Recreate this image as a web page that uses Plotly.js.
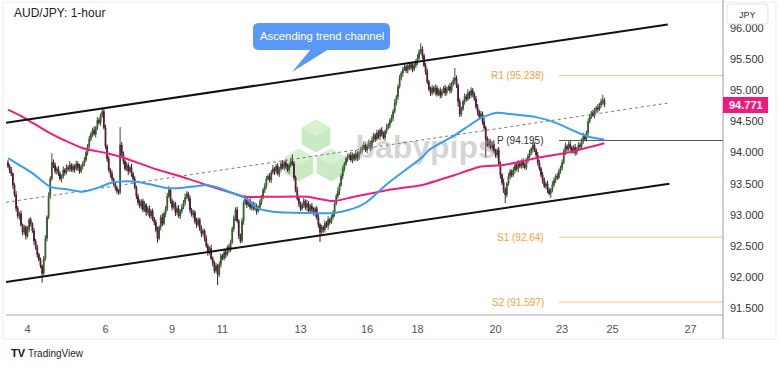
<!DOCTYPE html>
<html><head><meta charset="utf-8">
<script src="https://cdn.plot.ly/plotly-3.0.1.min.js"></script>
<style>html,body{margin:0;padding:0;background:#fff}#chart{width:780px;height:367px}</style>
</head><body><div id="chart"></div>
<script>
// ---- data (AUD/JPY, 1-hour bars, index = hour bar) ----
const firstOpen = 93.84;
const closes = [
93.78,93.72,93.66,93.48,93.32,93.10,92.98,93.02,92.84,92.72,
92.80,92.66,92.76,92.92,92.86,92.74,92.58,92.48,92.36,92.28,
92.18,92.06,92.30,92.62,92.96,93.30,93.58,93.84,93.80,93.70,
93.74,93.66,93.58,93.62,93.72,93.68,93.76,93.74,93.80,93.72,
93.78,93.74,93.82,93.76,93.70,93.78,93.82,93.88,94.00,94.10,
94.22,94.30,94.36,94.30,94.40,94.52,94.48,94.60,94.66,94.40,
94.10,93.90,93.72,93.66,93.58,93.50,93.44,93.38,93.36,94.12,
93.98,93.86,93.74,93.80,93.70,93.76,93.66,93.58,93.44,93.30,
93.20,93.14,93.22,93.08,93.16,93.04,93.10,92.98,93.06,92.94,
92.88,92.76,92.62,92.80,92.96,92.86,93.02,93.10,93.30,93.40,
93.22,93.12,93.18,93.04,93.10,92.98,93.06,93.12,93.20,93.28,
93.34,93.26,93.08,93.00,93.04,92.90,92.84,92.92,92.78,92.70,
92.74,92.62,92.50,92.40,92.46,92.30,92.22,92.10,92.18,92.04,
92.20,92.34,92.30,92.40,92.36,92.48,92.44,92.56,92.78,92.94,
93.08,92.90,92.66,92.58,92.90,93.20,93.26,93.16,93.22,93.12,
93.18,93.10,93.14,93.06,93.12,93.20,93.28,93.40,93.46,93.58,
93.62,93.56,93.68,93.74,93.70,93.78,93.66,93.74,93.82,93.76,
93.84,93.78,93.72,93.80,93.86,93.82,93.60,93.40,93.26,93.18,
93.10,93.16,93.22,93.12,93.18,93.06,93.14,93.08,93.02,93.10,
92.96,92.84,92.72,92.80,92.76,92.86,92.82,92.92,92.88,92.96,
93.02,93.18,93.30,93.38,93.48,93.62,93.74,93.82,93.90,93.92,
93.96,93.88,93.96,93.90,93.98,93.92,94.00,94.04,94.08,94.12,
94.04,94.10,94.16,94.08,94.20,94.28,94.22,94.32,94.26,94.36,
94.30,94.24,94.34,94.40,94.44,94.52,94.56,94.66,94.80,94.90,
95.06,95.20,95.28,95.34,95.38,95.32,95.40,95.36,95.42,95.34,
95.40,95.46,95.52,95.62,95.66,95.56,95.40,95.30,95.14,95.02,
94.96,95.04,94.98,95.04,94.94,95.00,94.92,94.98,95.04,94.96,
95.02,95.06,95.00,95.10,95.16,95.20,95.08,94.82,94.62,94.70,
94.82,94.90,94.86,94.96,94.92,95.00,94.94,94.86,94.74,94.66,
94.58,94.62,94.50,94.40,94.22,94.12,94.18,94.08,94.14,94.02,
93.96,94.04,93.82,93.64,93.52,93.40,93.32,93.50,93.62,93.70,
93.64,93.72,93.80,93.74,93.82,93.78,93.86,93.80,93.76,93.88,
93.94,94.00,94.06,94.12,94.04,93.96,93.84,93.74,93.64,93.56,
93.46,93.50,93.40,93.34,93.40,93.48,93.56,93.62,93.60,93.70,
93.76,93.84,94.02,94.10,94.06,94.14,94.08,94.02,94.08,94.00,
94.06,94.12,94.10,94.20,94.26,94.22,94.32,94.50,94.58,94.64,
94.60,94.68,94.72,94.70,94.76,94.82,94.84,94.771];
// upper / lower wick lengths in 0.01 yen, read per bar
const wickUp = [
4,3,5,2,3,6,4,3,5,2, 4,3,6,3,4,2,5,3,4,3, 3,2,4,5,3,6,4,15,5,4, 3,5,4,3,6,3,5,4,6,3,
4,3,5,4,6,3,4,5,3,4, 5,3,4,6,3,5,4,3,6,4, 5,3,4,3,5,2,4,3,3,29, 5,4,3,5,4,3,6,3,4,3,
4,5,3,4,6,3,4,5,3,4, 3,4,5,3,4,6,3,4,5,6, 3,4,5,3,4,6,3,5,4,6, 4,3,5,3,4,3,5,4,3,5,
4,3,5,4,3,6,3,4,5,3, 5,4,3,6,4,3,5,4,3,5, 4,5,3,4,5,3,6,4,3,5, 4,3,6,4,3,5,4,3,5,4,
3,5,4,6,3,4,5,3,4,6, 3,5,4,3,6,11,4,3,5,4, 3,4,5,3,6,4,3,5,4,3, 4,5,3,4,3,5,4,6,3,4,
5,3,4,6,3,4,5,3,4,6, 3,5,4,3,6,4,3,5,4,6, 3,4,5,3,6,4,3,5,4,3, 5,4,3,6,4,3,5,4,6,3,
4,5,3,4,6,3,4,5,3,4, 5,4,6,4,10,5,3,4,5,3, 4,5,3,6,4,3,5,4,3,5, 4,3,6,4,5,16,4,3,5,4,
3,5,4,6,3,5,4,3,5,4, 3,5,4,6,3,4,5,3,4,6, 4,3,5,4,3,6,4,3,5,4, 3,5,4,3,6,4,3,5,4,3,
4,5,3,5,4,3,5,4,3,5, 4,3,5,4,3,6,4,3,5,4, 3,5,4,6,3,4,5,3,4,6, 3,5,4,3,6,4,3,5,4,3,
5,4,3,6,4,5,9,4];
const wickDn = [
3,5,4,6,3,5,4,6,3,5, 4,6,3,4,5,3,6,4,5,3, 4,15,3,4,5,3,4,3,5,4, 5,4,3,6,4,5,3,4,5,3,
4,6,3,5,4,3,5,4,3,5, 3,4,5,3,6,4,3,5,4,3, 4,5,3,6,4,3,5,4,4,3, 4,5,3,4,6,3,5,4,3,5,
4,3,5,4,3,6,4,3,5,4, 5,4,7,3,5,4,3,6,4,3, 4,5,3,6,4,3,5,4,3,5, 3,4,5,3,6,4,5,3,4,6,
4,5,3,6,4,3,5,4,3,17, 4,5,3,4,6,3,5,4,3,5, 4,3,5,4,3,6,4,5,3,4, 5,3,4,6,3,5,4,3,5,4,
3,4,5,3,6,4,3,5,4,3, 5,4,3,6,4,3,5,4,3,5, 4,3,5,4,6,3,5,4,3,5, 4,5,16,3,5,4,3,6,4,3,
4,5,3,4,6,3,5,4,3,5, 4,3,5,4,3,6,4,3,5,4, 3,5,4,6,3,4,5,3,4,6, 4,3,5,4,3,5,4,6,3,4,
5,3,4,6,3,4,5,3,4,5, 3,4,5,3,4,6,3,5,4,3, 5,4,3,6,4,3,5,4,3,5, 4,3,5,4,3,6,4,8,5,4,
3,5,4,3,6,4,5,3,4,6, 4,3,5,4,30,3,5,4,6,3, 4,5,3,6,4,5,13,4,3,5, 4,3,5,4,6,3,4,5,3,4,
5,3,4,6,3,4,5,3,4,6, 3,4,5,3,7,4,3,5,4,3, 4,5,3,6,4,3,5,4,3,5, 4,3,5,4,6,3,4,5,3,4,
3,5,4,6,3,4,5,4];

const dayTickBars = [12,60,101,132,180,221,252,300,341,372,420];
const dayTickLabels = ['4','6','9','11','13','16','18','20','23','25','27'];
const priceTicks = [91.5,92.0,92.5,93.0,93.5,94.0,94.5,95.0,95.5,96.0];

const maBlueBars = [0,7,15,26,36,46,57,63,72,79,89,98,106,116,122,130,138,146,153,163,184,200,210,220,234,255,259,275,284,292,301,309,325,338,350,358,367];
const maBlueVals = [93.91,93.80,93.67,93.45,93.41,93.37,93.45,93.51,93.54,93.53,93.48,93.43,93.43,93.46,93.48,93.43,93.35,93.27,93.11,93.05,93.03,93.03,93.08,93.19,93.51,93.93,94.04,94.28,94.44,94.57,94.64,94.62,94.57,94.47,94.33,94.25,94.21];
const maRedBars = [0,10,26,46,61,72,89,106,122,138,146,163,184,200,213,234,255,275,290,305,325,346,367];
const maRedVals = [94.69,94.56,94.31,94.07,93.99,93.91,93.75,93.62,93.48,93.35,93.29,93.29,93.29,93.22,93.29,93.40,93.48,93.64,93.77,93.80,93.91,94.01,94.15];

const channelUpperBars = [-1.23,406]; const channelUpperVals = [94.48,96.06];
const channelLowerBars = [-1.23,407]; const channelLowerVals = [91.92,93.50];
const channelMidBars   = [-1.23,407]; const channelMidVals   = [93.20,94.80];

const pivotLabels = ['R1 (95.238)','P (94.195)','S1 (92.64)','S2 (91.597)'];
const pivotVals = [95.238,94.195,92.64,91.597];
const lastPrice = 94.771;

// ---- build candles ----
const bars = closes.map((_,i)=>i);
const opens = closes.map((c,i)=> i===0 ? firstOpen : closes[i-1]);
const highs = closes.map((c,i)=> +(Math.max(opens[i],c) + wickUp[i]/100).toFixed(3));
const lows  = closes.map((c,i)=> +(Math.min(opens[i],c) - wickDn[i]/100).toFixed(3));

// pixel helpers (plot area: x 6..723, y 5..314)
const L=6,R=723,T=5,B=314;
const PX = x => (x-L)/(R-L);
const PY = y => (B-y)/(B-T);
const pp = (x,y) => PX(x).toFixed(4)+','+PY(y).toFixed(4);
function poly(pts){ return 'M'+pts.map(p=>pp(p[0],p[1])).join(' L')+' Z'; }
function rrect(x0,y0,x1,y1,r){
  return `M${pp(x0+r,y0)} L${pp(x1-r,y0)} Q${pp(x1,y0)} ${pp(x1,y0+r)} L${pp(x1,y1-r)} Q${pp(x1,y1)} ${pp(x1-r,y1)} L${pp(x0+r,y1)} Q${pp(x0,y1)} ${pp(x0,y1-r)} L${pp(x0,y0+r)} Q${pp(x0,y0)} ${pp(x0+r,y0)} Z`;
}
function hexPts(cx,cy,r){ const a=[]; for(let k=0;k<6;k++){const t=(-90+60*k)*Math.PI/180; a.push([cx+r*Math.cos(t), cy+r*Math.sin(t)]);} return a; }
function topFace(cx,cy,r){ const c=Math.cos(Math.PI/6); return [[cx,cy-r],[cx+r*c,cy-r/2],[cx,cy],[cx-r*c,cy-r/2]]; }

const shapes = [];
shapes.push({type:'rect',xref:'paper',yref:'paper',x0:PX(3),x1:PX(776),y0:PY(339),y1:PY(2),line:{color:'#ececec',width:1},layer:'below'});
[[316,136],[299,165],[331,165]].forEach(([cx,cy])=>{
  shapes.push({type:'path',xref:'paper',yref:'paper',path:poly(hexPts(cx,cy,16.5)),fillcolor:'#c9eac3',line:{width:0},layer:'below'});
  shapes.push({type:'path',xref:'paper',yref:'paper',path:poly(topFace(cx,cy,16.5)),fillcolor:'#d7f1d2',line:{width:0},layer:'below'});
});
const pivotColors = ['#f8c27e','#555555','#f8c27e','#f8c27e'];
pivotVals.forEach((v,i)=>shapes.push({type:'line',xref:'paper',yref:'y',x0:PX(559),x1:1,y0:v,y1:v,line:{color:pivotColors[i],width:1},layer:'below'}));
shapes.push({type:'line',xref:'paper',yref:'paper',x0:1,x1:1,y0:PY(339),y1:PY(0),line:{color:'#9a9a9a',width:1},layer:'above'});
shapes.push({type:'path',xref:'paper',yref:'paper',path:rrect(253,23,390,50,6),fillcolor:'#5b97f4',line:{width:0},layer:'above'});
shapes.push({type:'path',xref:'paper',yref:'paper',path:poly([[311,49],[292,72],[329,49]]),fillcolor:'#5b97f4',line:{width:0},layer:'above'});
shapes.push({type:'rect',xref:'paper',yref:'paper',x0:PX(723),x1:PX(768),y0:PY(113),y1:PY(97),fillcolor:'#f0197d',line:{width:0},layer:'above'});
shapes.push({type:'path',xref:'paper',yref:'paper',path:rrect(727,4,768,24,3),fillcolor:'#ffffff',line:{color:'#e2e2e2',width:1},layer:'above'});

const F = 'Liberation Sans, Arial, sans-serif';
const annotations = [
  {xref:'paper',yref:'paper',x:PX(12),y:PY(13),xanchor:'left',yanchor:'middle',text:'AUD/JPY: 1-hour',showarrow:false,font:{family:F,size:12,color:'#222'}},
  {xref:'paper',yref:'paper',x:PX(321.5),y:PY(36.5),xanchor:'center',yanchor:'middle',text:'Ascending trend channel',showarrow:false,font:{family:F,size:11.3,color:'#ffffff'}},
  {xref:'paper',yref:'paper',x:PX(745.5),y:PY(105),xanchor:'center',yanchor:'middle',text:'<b>'+lastPrice.toFixed(3)+'</b>',showarrow:false,font:{family:F,size:11,color:'#ffffff'}},
  {xref:'paper',yref:'paper',x:PX(747.5),y:PY(14.5),xanchor:'center',yanchor:'middle',text:'JPY',showarrow:false,font:{family:F,size:9,color:'#333'}},
  {xref:'paper',yref:'paper',x:PX(9),y:PY(353),xanchor:'left',yanchor:'middle',text:'<b>TV</b>',showarrow:false,font:{family:F,size:11,color:'#111'}},
  {xref:'paper',yref:'paper',x:PX(26),y:PY(353),xanchor:'left',yanchor:'middle',text:'TradingView',showarrow:false,font:{family:F,size:10,color:'#222'}}
];
pivotLabels.forEach((t,i)=>annotations.push({xref:'paper',yref:'y',x:PX(546),y:pivotVals[i],xanchor:'right',yanchor:'middle',text:t,showarrow:false,font:{family:F,size:10,color:i===1?'#333':'#f5a03c'}}));

const traces = [
  {type:'scatter',mode:'text',x:[257],y:[94.04],text:['<b>babypips</b>'],textfont:{family:F,size:32,color:'rgba(160,160,160,0.45)'},hoverinfo:'skip',showlegend:false},
  {type:'candlestick',x:bars,open:opens,high:highs,low:lows,close:closes,whiskerwidth:0,
   increasing:{line:{color:'#35562e',width:1},fillcolor:'#47883a'},
   decreasing:{line:{color:'#4d1733',width:1},fillcolor:'#9a1c5a'},showlegend:false,hoverinfo:'skip'},
  {type:'scatter',mode:'lines',x:channelMidBars,y:channelMidVals,line:{color:'#7a7a7a',width:1,dash:'3px,3px'},showlegend:false,hoverinfo:'skip'},
  {type:'scatter',mode:'lines',x:maRedBars,y:maRedVals,line:{color:'#ee1f7c',width:2,shape:'spline',smoothing:0.6},showlegend:false,hoverinfo:'skip'},
  {type:'scatter',mode:'lines',x:maBlueBars,y:maBlueVals,line:{color:'#3b9bf0',width:2,shape:'spline',smoothing:0.6},showlegend:false,hoverinfo:'skip'},
  {type:'scatter',mode:'lines',x:channelUpperBars,y:channelUpperVals,line:{color:'#111',width:2},showlegend:false,hoverinfo:'skip'},
  {type:'scatter',mode:'lines',x:channelLowerBars,y:channelLowerVals,line:{color:'#111',width:2},showlegend:false,hoverinfo:'skip'}
];

const layout = {
  width:780,height:367,margin:{l:L,r:780-R,t:T,b:367-B},
  paper_bgcolor:'#fff',plot_bgcolor:'#fff',showlegend:false,
  font:{family:F},
  xaxis:{type:'linear',range:[-1.23,440],tickvals:dayTickBars,ticktext:dayTickLabels,showgrid:false,zeroline:false,
         showline:true,linecolor:'#d3d3d3',linewidth:2,ticks:'',ticklabelstandoff:4,
         tickfont:{family:F,size:11,color:'#555'},rangeslider:{visible:false},fixedrange:true},
  yaxis:{side:'right',range:[91.405,96.373],tickvals:priceTicks,tickformat:'.3f',showgrid:false,zeroline:false,
         showline:false,ticks:'',ticklabelstandoff:6,tickfont:{family:F,size:11,color:'#333'},fixedrange:true},
  shapes:shapes,annotations:annotations
};
Plotly.newPlot('chart',traces,layout,{displayModeBar:false,staticPlot:true});
</script></body></html>
